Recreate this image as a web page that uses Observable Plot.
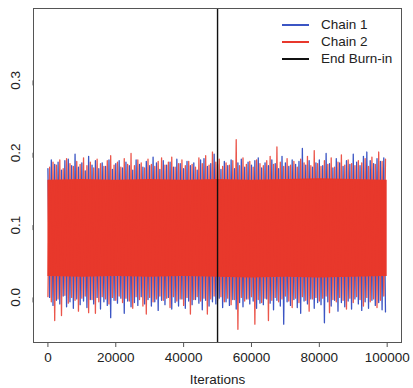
<!DOCTYPE html>
<html>
<head>
<meta charset="utf-8">
<script src="https://cdn.jsdelivr.net/npm/d3@7"></script>
<script src="https://cdn.jsdelivr.net/npm/@observablehq/plot@0.6"></script>
<style>
  html, body { margin: 0; padding: 0; background: #fff; }
  #wrap { position: relative; width: 413px; height: 388px; font-family: "Liberation Sans", Arial, sans-serif; }
  .legend { position: absolute; left: 282px; top: 16px; font-size: 13.5px; color: #222; }
  .legend .row { display: flex; align-items: center; height: 17px; }
  .legend .sw { width: 27px; height: 2px; margin-right: 12px; }
</style>
</head>
<body>
<div id="wrap"></div>
<script>
// ---- data ----
const iterTicks = [0, 20000, 40000, 60000, 80000, 100000];
const valueTicks = [0.0, 0.1, 0.2, 0.3];
const burnIn = 50000;
const binSize = 1000; // each value below is the extreme reached within one 1000-iteration bin

// Chain 1 (blue): upper and lower excursions per bin
const c1Hi = [
  0.178, 0.190, 0.184, 0.187, 0.176, 0.189, 0.191, 0.182, 0.198, 0.180,
  0.186, 0.175, 0.195, 0.183, 0.189, 0.178, 0.186, 0.181, 0.190, 0.177,
  0.185, 0.189, 0.179, 0.187, 0.182, 0.176, 0.190, 0.184, 0.180, 0.188,
  0.182, 0.194, 0.186, 0.177, 0.189, 0.183, 0.187, 0.180, 0.191, 0.185,
  0.178, 0.188, 0.182, 0.186, 0.176, 0.190, 0.192, 0.181, 0.185, 0.198,
  0.184, 0.177, 0.188, 0.182, 0.190, 0.178, 0.186, 0.191, 0.180, 0.187,
  0.183, 0.189, 0.193, 0.179, 0.186, 0.182, 0.190, 0.185, 0.178, 0.195,
  0.186, 0.181, 0.190, 0.184, 0.188, 0.206, 0.183, 0.189, 0.180, 0.186,
  0.190, 0.182, 0.199, 0.185, 0.179, 0.192, 0.186, 0.181, 0.189, 0.184,
  0.198, 0.187, 0.182, 0.195, 0.201, 0.189, 0.185, 0.192, 0.188, 0.193
];
const c1Lo = [
  0.000, -0.011, -0.004, -0.009, 0.002, -0.013, -0.006, -0.015, -0.002, -0.010,
  -0.005, -0.014, -0.003, -0.009, 0.000, -0.016, -0.006, -0.011, -0.028, -0.004,
  -0.008, -0.001, -0.022, -0.005, -0.013, -0.007, -0.011, 0.001, -0.009, -0.003,
  -0.012, -0.006, -0.018, -0.004, -0.010, 0.000, -0.016, -0.007, -0.012, -0.002,
  -0.015, -0.005, -0.010, -0.003, -0.008, -0.017, -0.004, -0.012, -0.006, -0.009,
  -0.001, -0.014, -0.006, -0.011, -0.003, -0.016, -0.007, -0.013, -0.002, -0.009,
  -0.005, -0.015, -0.008, -0.010, -0.002, -0.008, -0.017, -0.004, -0.012, -0.037,
  -0.006, -0.011, -0.003, -0.014, -0.022, -0.005, -0.009, -0.002, -0.015, -0.007,
  -0.010, -0.035, -0.006, -0.012, -0.004, -0.019, -0.007, -0.013, -0.005, -0.016,
  -0.002, -0.009, -0.018, -0.006, -0.015, -0.004, -0.011, -0.007, -0.017, -0.020
];
// Chain 2 (red): upper and lower excursions per bin
const c2Hi = [
  0.180, 0.187, 0.183, 0.190, 0.178, 0.192, 0.185, 0.181, 0.188, 0.184,
  0.193, 0.182, 0.187, 0.179, 0.191, 0.185, 0.181, 0.189, 0.196, 0.183,
  0.187, 0.180, 0.192, 0.184, 0.199, 0.182, 0.190, 0.186, 0.179, 0.191,
  0.184, 0.181, 0.188, 0.193, 0.183, 0.187, 0.194, 0.180, 0.185, 0.190,
  0.182, 0.188, 0.184, 0.180, 0.193, 0.185, 0.196, 0.183, 0.201, 0.187,
  0.191, 0.181, 0.186, 0.183, 0.189, 0.218, 0.182, 0.193, 0.184, 0.188,
  0.180, 0.190, 0.185, 0.182, 0.189, 0.195, 0.184, 0.208, 0.187, 0.181,
  0.192, 0.183, 0.188, 0.180, 0.191, 0.186, 0.195, 0.182, 0.203, 0.185,
  0.181, 0.189, 0.184, 0.193, 0.180, 0.187, 0.197, 0.183, 0.190, 0.185,
  0.182, 0.189, 0.186, 0.192, 0.181, 0.194, 0.184, 0.201, 0.188, 0.191
];
const c2Lo = [
  0.001, -0.006, -0.032, -0.002, -0.025, 0.003, -0.008, 0.000, -0.004, -0.019,
  -0.001, 0.002, -0.021, -0.003, -0.022, -0.006, 0.001, -0.002, -0.009, 0.000,
  -0.004, 0.002, -0.007, -0.001, -0.005, -0.015, 0.001, -0.003, -0.012, -0.023,
  0.000, -0.006, -0.002, 0.002, -0.004, -0.001, -0.014, 0.001, -0.005, -0.002,
  -0.011, 0.000, -0.023, -0.003, 0.001, -0.005, -0.001, -0.023, -0.002, 0.002,
  -0.004, 0.001, -0.006, -0.001, -0.010, -0.003, -0.044, 0.000, -0.005, -0.002,
  0.001, -0.037, -0.003, -0.007, -0.001, -0.032, -0.004, 0.000, -0.006, -0.002,
  0.002, -0.005, -0.014, -0.001, -0.007, 0.001, -0.004, -0.019, -0.002, 0.000,
  -0.005, -0.001, 0.002, -0.021, -0.003, -0.006, 0.000, -0.004, -0.016, -0.001,
  -0.007, 0.001, -0.003, -0.012, 0.000, -0.006, -0.002, -0.014, -0.004, 0.002
];
// dense (solid) core of the overlaid traces, every 10000 iterations
const coreIters = [0, 10000, 20000, 30000, 40000, 50000, 60000, 70000, 80000, 90000, 100000];
const coreLow  = [0.029, 0.028, 0.029, 0.028, 0.029, 0.028, 0.027, 0.028, 0.027, 0.028, 0.029];
const coreHigh = [0.162, 0.163, 0.162, 0.163, 0.162, 0.163, 0.162, 0.163, 0.164, 0.163, 0.162];

const legendLabels = ["Chain 1", "Chain 2", "End Burn-in"];
const blue = "#3b55c4";
const red = "#e8382c";
const legendColors = [blue, red, "#111"];

// ---- build tables ----
function trace(hi, lo, hiFirst) {
  const out = [];
  hi.forEach((h, i) => {
    out.push({it: i * binSize, v: hiFirst ? h : lo[i]});
    out.push({it: i * binSize + binSize / 2, v: hiFirst ? lo[i] : h});
  });
  return out;
}
const chain1 = trace(c1Hi, c1Lo, true);
const chain2 = trace(c2Hi, c2Lo, false);
const core = coreIters.map((it, i) => ({it, lo: coreLow[i], hi: coreHigh[i]}));

const chart = Plot.plot({
  width: 413,
  height: 388,
  marginLeft: 33,
  marginRight: 12,
  marginTop: 8,
  marginBottom: 46,
  style: {fontFamily: '"Liberation Sans", Arial, sans-serif', fontSize: "13.5px", color: "#222", background: "#fff"},
  x: {domain: [-4250, 104220]},
  y: {domain: [-0.0623, 0.3994]},
  marks: [
    Plot.lineY(chain1, {x: "it", y: "v", stroke: blue, strokeWidth: 1.3}),
    Plot.areaY(core, {x: "it", y1: "lo", y2: "hi", fill: red}),
    Plot.lineY(chain2, {x: "it", y: "v", stroke: red, strokeWidth: 1.3, strokeOpacity: 0.85}),
    Plot.ruleX([burnIn], {stroke: "#111", strokeWidth: 1.4}),
    Plot.frame({stroke: "#555"}),
    Plot.axisX(iterTicks, {tickSize: 5, tickPadding: 5, tickFormat: d => String(d), label: null, stroke: "#555"}),
    Plot.axisY(valueTicks, {tickSize: 5, tickPadding: 13, tickFormat: d3.format(".1f"), rotate: -90, textAnchor: "middle", label: null, stroke: "#555"}),
    Plot.text(["Iterations"], {frameAnchor: "bottom", dy: 37, lineAnchor: "middle", fill: "#222"})
  ]
});

const wrap = document.getElementById("wrap");
wrap.appendChild(chart);
const legend = document.createElement("div");
legend.className = "legend";
legendLabels.forEach((lab, i) => {
  const row = document.createElement("div");
  row.className = "row";
  const sw = document.createElement("span");
  sw.className = "sw";
  sw.style.background = legendColors[i];
  const t = document.createElement("span");
  t.textContent = lab;
  row.appendChild(sw);
  row.appendChild(t);
  legend.appendChild(row);
});
wrap.appendChild(legend);
</script>
</body>
</html>
